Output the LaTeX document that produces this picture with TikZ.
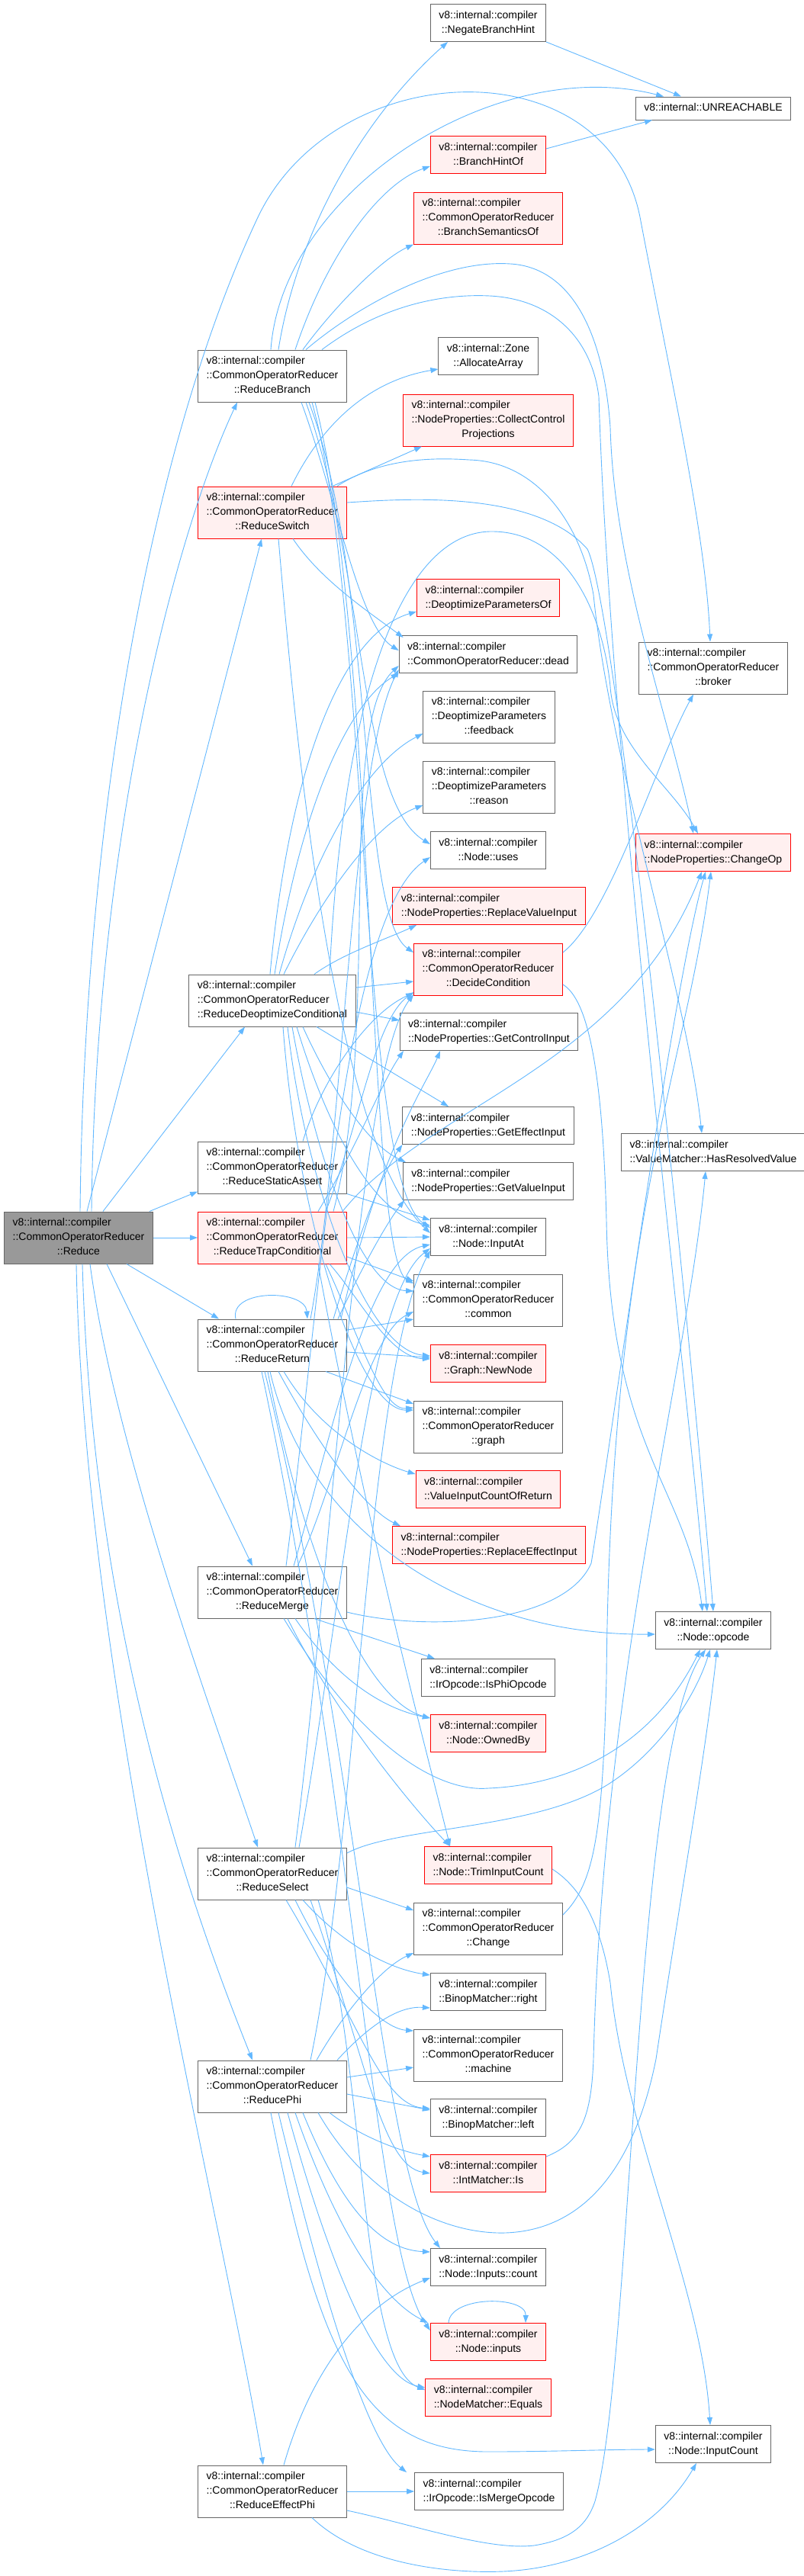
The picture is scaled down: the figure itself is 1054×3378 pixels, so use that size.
\documentclass[tikz,border=0pt]{standalone}
\usepackage{fontspec}
\setmainfont{Liberation Sans}
\usetikzlibrary{arrows.meta}

\definecolor{edgeblue}{HTML}{63B8FF}
\definecolor{boxgray}{HTML}{666666}
\definecolor{hotred}{HTML}{FF0000}
\definecolor{hotfill}{HTML}{FFF0F0}
\definecolor{rootfill}{HTML}{999999}

\newcommand{\vns}{v8::internal::compiler}
\newcommand{\oneline}[1]{\begin{tabular}{@{}c@{}}#1\end{tabular}}
\newcommand{\twoline}[2]{\begin{tabular}{@{}l@{}}#1\\\multicolumn{1}{@{}c@{}}{#2}\end{tabular}}
\newcommand{\threeline}[3]{\begin{tabular}{@{}l@{}}#1\\#2\\\multicolumn{1}{@{}c@{}}{#3}\end{tabular}}

\tikzset{
  fn/.style={draw=boxgray, fill=white, line width=1pt, inner xsep=11pt, inner ysep=5.5pt,
    font=\fontsize{14}{19}\selectfont},
  fnhot/.style={fn, draw=hotred, fill=hotfill},
  fnroot/.style={fn, fill=rootfill},
  call/.style={draw=edgeblue, line width=0.9pt, -{Triangle[length=10pt,width=7pt]}},
}

\begin{document}
\begin{tikzpicture}[x=1pt, y=1pt]
  \useasboundingbox (0,0) rectangle (1054,-3378);

  % callees, middle column
  \node[fn] (neg) at (640,-30) {\twoline{\vns}{::NegateBranchHint}};
  \node[fnhot] (hintof) at (640,-203) {\twoline{\vns}{::BranchHintOf}};
  \node[fnhot] (semof) at (640,-286) {\threeline{\vns}{::CommonOperatorReducer}{::BranchSemanticsOf}};
  \node[fn] (alloc) at (640,-467) {\twoline{v8::internal::Zone}{::AllocateArray}};
  \node[fnhot] (collect) at (640,-551) {\threeline{\vns}{::NodeProperties::CollectControl}{Projections}};
  \node[fnhot] (depof) at (640,-784) {\twoline{\vns}{::DeoptimizeParametersOf}};
  \node[fn] (dead) at (640,-858) {\twoline{\vns}{::CommonOperatorReducer::dead}};
  \node[fn] (feedback) at (641,-940) {\threeline{\vns}{::DeoptimizeParameters}{::feedback}};
  \node[fn] (reason) at (641,-1032) {\threeline{\vns}{::DeoptimizeParameters}{::reason}};
  \node[fn] (uses) at (640,-1115) {\twoline{\vns}{::Node::uses}};
  \node[fnhot] (replval) at (641,-1188) {\twoline{\vns}{::NodeProperties::ReplaceValueInput}};
  \node[fnhot] (decide) at (640,-1271) {\threeline{\vns}{::CommonOperatorReducer}{::DecideCondition}};
  \node[fn] (getctrl) at (641,-1353) {\twoline{\vns}{::NodeProperties::GetControlInput}};
  \node[fn] (geteff) at (640,-1476) {\twoline{\vns}{::NodeProperties::GetEffectInput}};
  \node[fn] (getval) at (640,-1549) {\twoline{\vns}{::NodeProperties::GetValueInput}};
  \node[fn] (inputat) at (640,-1622) {\twoline{\vns}{::Node::InputAt}};
  \node[fn] (common) at (640,-1705) {\threeline{\vns}{::CommonOperatorReducer}{::common}};
  \node[fnhot] (newnode) at (640,-1788) {\twoline{\vns}{::Graph::NewNode}};
  \node[fn] (graph) at (640,-1871) {\threeline{\vns}{::CommonOperatorReducer}{::graph}};
  \node[fnhot] (vicr) at (640,-1953) {\twoline{\vns}{::ValueInputCountOfReturn}};
  \node[fnhot] (repleff) at (641,-2026) {\twoline{\vns}{::NodeProperties::ReplaceEffectInput}};
  \node[fn] (isphi) at (640,-2200) {\twoline{\vns}{::IrOpcode::IsPhiOpcode}};
  \node[fnhot] (owned) at (640,-2273) {\twoline{\vns}{::Node::OwnedBy}};
  \node[fnhot] (trim) at (640,-2446) {\twoline{\vns}{::Node::TrimInputCount}};
  \node[fn] (change) at (640,-2529) {\threeline{\vns}{::CommonOperatorReducer}{::Change}};
  \node[fn] (right) at (640,-2612) {\twoline{\vns}{::BinopMatcher::right}};
  \node[fn] (machine) at (640,-2695) {\threeline{\vns}{::CommonOperatorReducer}{::machine}};
  \node[fn] (left) at (640,-2777) {\twoline{\vns}{::BinopMatcher::left}};
  \node[fnhot] (is) at (640,-2850) {\twoline{\vns}{::IntMatcher::Is}};
  \node[fn] (count) at (640,-2973) {\twoline{\vns}{::Node::Inputs::count}};
  \node[fnhot] (inputs) at (640,-3071) {\twoline{\vns}{::Node::inputs}};
  \node[fnhot] (equals) at (640,-3144) {\twoline{\vns}{::NodeMatcher::Equals}};
  \node[fn] (ismerge) at (641,-3267) {\twoline{\vns}{::IrOpcode::IsMergeOpcode}};

  % callees, right column
  \node[fn] (unreach) at (935,-142) {\oneline{v8::internal::UNREACHABLE}};
  \node[fn] (broker) at (935,-876) {\threeline{\vns}{::CommonOperatorReducer}{::broker}};
  \node[fnhot] (changeop) at (935,-1118) {\twoline{\vns}{::NodeProperties::ChangeOp}};
  \node[fn] (hasres) at (935,-1511) {\twoline{\vns}{::ValueMatcher::HasResolvedValue}};
  \node[fn] (opcode) at (935,-2138) {\twoline{\vns}{::Node::opcode}};
  \node[fn] (inputcount) at (935,-3205) {\twoline{\vns}{::Node::InputCount}};

  % reducers
  \node[fn] (rbranch) at (357,-493) {\threeline{\vns}{::CommonOperatorReducer}{::ReduceBranch}};
  \node[fnhot] (rswitch) at (357,-672) {\threeline{\vns}{::CommonOperatorReducer}{::ReduceSwitch}};
  \node[fn] (rdeopt) at (357,-1312) {\threeline{\vns}{::CommonOperatorReducer}{::ReduceDeoptimizeConditional}};
  \node[fn] (rstatic) at (357,-1531) {\threeline{\vns}{::CommonOperatorReducer}{::ReduceStaticAssert}};
  \node[fnhot] (rtrap) at (357,-1623) {\threeline{\vns}{::CommonOperatorReducer}{::ReduceTrapConditional}};
  \node[fn] (rreturn) at (357,-1764) {\threeline{\vns}{::CommonOperatorReducer}{::ReduceReturn}};
  \node[fn] (rmerge) at (357,-2088) {\threeline{\vns}{::CommonOperatorReducer}{::ReduceMerge}};
  \node[fn] (rselect) at (357,-2457) {\threeline{\vns}{::CommonOperatorReducer}{::ReduceSelect}};
  \node[fn] (rphi) at (357,-2736) {\threeline{\vns}{::CommonOperatorReducer}{::ReducePhi}};
  \node[fn] (reffphi) at (357,-3267) {\threeline{\vns}{::CommonOperatorReducer}{::ReduceEffectPhi}};

  % root
  \node[fnroot] (reduce) at (103,-1623) {\threeline{\vns}{::CommonOperatorReducer}{::Reduce}};

  % Reduce
  \draw[call] ([xshift=2]reduce.north) .. controls (110,-1100) and (190,-600) .. (338,-285)
    .. controls (440,-70) and (800,-60) .. (840,-290) .. controls (880,-500) and (925,-700) .. ([xshift=-4]broker.north);
  \draw[call] ([xshift=17]reduce.north) .. controls (125,-1100) and (230,-700) .. ([xshift=-46]rbranch.south);
  \draw[call] ([xshift=11]reduce.north) -- ([xshift=-14]rswitch.south);
  \draw[call] ([xshift=32]reduce.north) -- ([xshift=-36]rdeopt.south);
  \draw[call] ([xshift=-5]reduce.north east) -- ([yshift=3]rstatic.south west);
  \draw[call] (reduce.east) -- (rtrap.west);
  \draw[call] ([xshift=63]reduce.south) -- ([xshift=-70]rreturn.north);
  \draw[call] ([xshift=37]reduce.south) -- ([xshift=-26]rmerge.north);
  \draw[call] ([xshift=15]reduce.south) .. controls (150,-1900) and (280,-2250) .. ([xshift=-19]rselect.north);
  \draw[call] ([xshift=5]reduce.south) .. controls (120,-2100) and (230,-2450) .. ([xshift=-26]rphi.north);
  \draw[call] ([xshift=-3]reduce.south) .. controls (110,-2200) and (290,-2900) .. ([xshift=-12]reffphi.north);

  % ReduceBranch
  \draw[call] ([xshift=-2]rbranch.north) .. controls (370,-250) and (650,-70) .. ([xshift=-65]unreach.north);
  \draw[call] ([xshift=8]rbranch.north) .. controls (390,-300) and (480,-150) .. ([xshift=-53]neg.south);
  \draw[call] ([xshift=30]rbranch.north) .. controls (430,-330) and (500,-240) .. ([yshift=-15]hintof.west);
  \draw[call] ([xshift=40]rbranch.north) .. controls (440,-400) and (500,-340) .. (semof.south west);
  \draw[call] ([xshift=44]rbranch.north) .. controls (470,-400) and (580,-340) .. (669,-346)
    .. controls (740,-350) and (790,-420) .. (800,-560) .. controls (805,-750) and (880,-950) .. ([xshift=-26]changeop.north);
  \draw[call] ([xshift=65]rbranch.north) .. controls (500,-400) and (580,-385) .. (642,-388)
    .. controls (720,-392) and (775,-440) .. (785,-520) .. controls (800,-1000) and (900,-1800) .. ([xshift=-8]opcode.north);
  \draw[call] ([xshift=38]rbranch.south) .. controls (440,-650) and (470,-820) .. ([yshift=5]dead.west);
  \draw[call] ([xshift=44]rbranch.south) .. controls (480,-750) and (470,-1050) .. ([yshift=8]uses.west);
  \draw[call] ([xshift=48]rbranch.south) .. controls (490,-750) and (470,-1200) .. ([yshift=22]decide.west);
  \draw[call] ([xshift=52]rbranch.south) .. controls (485,-800) and (470,-1550) .. ([yshift=12]inputat.west);
  \draw[call] ([xshift=56]rbranch.south) .. controls (495,-850) and (480,-1650) .. ([yshift=22]common.west);

  % ReduceSwitch
  \draw[call] ([xshift=25]rswitch.north) .. controls (420,-560) and (480,-500) .. ([yshift=-17]alloc.west);
  \draw[call] ([xshift=79]rswitch.north) -- ([xshift=-87]collect.south);
  \draw[call] ([xshift=85]rswitch.north) .. controls (500,-600) and (570,-600) .. (615,-603)
    .. controls (700,-605) and (760,-680) .. (778,-780) .. controls (800,-1000) and (900,-1300) .. ([xshift=-15]hasres.north);
  \draw[call] ([yshift=13]rswitch.east) .. controls (520,-655) and (700,-640) .. (770,-720)
    .. controls (810,-800) and (910,-1800) .. (opcode.north);
  \draw[call] ([xshift=27]rswitch.south) .. controls (420,-760) and (480,-800) .. ([xshift=6,yshift=-3]dead.north west);
  \draw[call] ([xshift=8]rswitch.south) .. controls (390,-1000) and (440,-1500) .. ([yshift=5]inputat.west);

  % ReduceDeoptimizeConditional
  \draw[call] ([xshift=-3]rdeopt.north) .. controls (380,-1000) and (450,-830) .. ([yshift=-18]depof.west);
  \draw[call] ([xshift=3]rdeopt.north) .. controls (395,-1050) and (460,-920) .. (dead.south west);
  \draw[call] ([xshift=9]rdeopt.north) .. controls (410,-1120) and (480,-1000) .. ([yshift=-22]feedback.west);
  \draw[call] ([xshift=15]rdeopt.north) .. controls (420,-1180) and (490,-1080) .. ([yshift=-24]reason.west);
  \draw[call] ([xshift=55]rdeopt.north) .. controls (450,-1250) and (510,-1230) .. ([xshift=-95]replval.south);
  \draw[call] ([xshift=75]rdeopt.north) .. controls (450,-900) and (530,-700) .. (642,-697)
    .. controls (740,-695) and (790,-800) .. (800,-900) .. controls (805,-980) and (880,-1030) .. ([xshift=-20]changeop.north);
  \draw[call] ([yshift=17]rdeopt.east) -- ([yshift=-16]decide.west);
  \draw[call] ([yshift=-15]rdeopt.east) -- ([yshift=15]getctrl.west);
  \draw[call] ([xshift=58]rdeopt.south) -- ([xshift=-52]geteff.north);
  \draw[call] ([xshift=40]rdeopt.south) .. controls (430,-1420) and (480,-1500) .. ([xshift=-108]getval.north);
  \draw[call] ([xshift=32]rdeopt.south) .. controls (420,-1450) and (480,-1590) .. ([yshift=15]inputat.west);
  \draw[call] ([xshift=26]rdeopt.south) .. controls (410,-1500) and (470,-1690) .. ([yshift=12]common.west);
  \draw[call] ([xshift=20]rdeopt.south) .. controls (400,-1550) and (480,-1770) .. ([yshift=10]newnode.west);
  \draw[call] ([xshift=14]rdeopt.south) .. controls (390,-1600) and (470,-1850) .. ([yshift=22]graph.west);

  % ReduceStaticAssert
  \draw[call] ([xshift=40]rstatic.north) .. controls (420,-1420) and (480,-1330) .. ([yshift=-31]decide.west);
  \draw[call] (rstatic.south east) -- ([yshift=22]inputat.west);

  % ReduceTrapConditional
  \draw[call] (rtrap.east) -- (inputat.west);
  \draw[call] ([xshift=60]rtrap.north) .. controls (470,-1500) and (500,-1420) .. ([xshift=-112]getctrl.south);
  \draw[call] ([xshift=70]rtrap.north) .. controls (470,-1480) and (490,-1340) .. ([yshift=-30]decide.west);
  \draw[call] ([xshift=80]rtrap.north) .. controls (500,-1350) and (440,-950) .. ([yshift=-15]dead.west);
  \draw[call] ([xshift=92]rtrap.north) .. controls (560,-1450) and (820,-1400) .. ([xshift=-15]changeop.south);
  \draw[call] ([yshift=-25]rtrap.east) -- ([yshift=25]common.west);
  \draw[call] ([xshift=75]rtrap.south) .. controls (470,-1700) and (510,-1780) .. ([yshift=6]newnode.west);
  \draw[call] ([xshift=70]rtrap.south) .. controls (470,-1750) and (500,-1850) .. ([yshift=25]graph.west);
  \draw[call] ([xshift=60]rtrap.south) .. controls (480,-2000) and (560,-2300) .. ([xshift=-50]trim.north);

  % ReduceReturn
  \draw[call] ([xshift=-48]rreturn.north) .. controls (300,-1690) and (400,-1690) .. ([xshift=46]rreturn.north);
  \draw[call] ([xshift=50]rreturn.north) .. controls (450,-1500) and (460,-1000) .. ([yshift=-20]dead.west);
  \draw[call] ([xshift=80]rreturn.north) .. controls (470,-1620) and (500,-1540) .. (geteff.south west);
  \draw[call] ([xshift=86]rreturn.north) .. controls (480,-1650) and (510,-1600) .. ([xshift=-110]getval.south);
  \draw[call] ([xshift=90]rreturn.north) .. controls (500,-1500) and (560,-1420) .. ([xshift=-64]getctrl.south);
  \draw[call] ([yshift=20]rreturn.east) -- ([yshift=-25]common.west);
  \draw[call] ([yshift=-9]rreturn.east) -- ([yshift=8]newnode.west);
  \draw[call] ([xshift=70]rreturn.south) -- ([yshift=30]graph.west);
  \draw[call] ([xshift=15]rreturn.south) .. controls (420,-1880) and (500,-1920) .. ([yshift=20]vicr.west);
  \draw[call] ([xshift=8]rreturn.south) .. controls (420,-1900) and (480,-1980) .. ([xshift=-116]repleff.north);
  \draw[call] ([xshift=-3]rreturn.south) .. controls (400,-2000) and (600,-2145) .. ([yshift=-5]opcode.west);
  \draw[call] ([xshift=-6]rreturn.south) .. controls (400,-2050) and (480,-2230) .. ([yshift=20]owned.west);
  \draw[call] ([xshift=-10]rreturn.south) .. controls (470,-2300) and (500,-2850) .. ([xshift=-63]count.north);
  \draw[call] ([xshift=-14]rreturn.south) .. controls (470,-2400) and (490,-2950) .. ([yshift=15]inputs.west);

  % ReduceMerge
  \draw[call] ([xshift=18]rmerge.north) .. controls (420,-1700) and (450,-1200) .. ([yshift=-9]uses.west);
  \draw[call] ([xshift=28]rmerge.north) .. controls (430,-1900) and (480,-1650) .. ([yshift=-10]inputat.west);
  \draw[call] ([xshift=33]rmerge.north) .. controls (440,-1950) and (480,-1750) .. ([yshift=-15]common.west);
  \draw[call] ([yshift=-26]rmerge.east) .. controls (560,-2140) and (740,-2130) .. (775,-2050)
    .. controls (800,-1900) and (880,-1300) .. ([xshift=-10]changeop.south);
  \draw[call] ([xshift=15]rmerge.south) .. controls (480,-2300) and (580,-2350) .. (640,-2345)
    .. controls (760,-2340) and (860,-2280) .. ([xshift=-17]opcode.south);
  \draw[call] ([xshift=55]rmerge.south) -- ([xshift=-70]isphi.north);
  \draw[call] ([xshift=30]rmerge.south) .. controls (440,-2200) and (500,-2240) .. ([yshift=20]owned.west);
  \draw[call] ([xshift=20]rmerge.south) .. controls (440,-2250) and (550,-2380) .. ([xshift=-50]trim.north);

  % ReduceSelect
  \draw[call] ([xshift=30]rselect.north) .. controls (440,-2000) and (470,-1400) .. ([yshift=-33]decide.west);
  \draw[call] ([xshift=35]rselect.north) .. controls (450,-2100) and (480,-1700) .. ([yshift=-15]inputat.west);
  \draw[call] ([yshift=27]rselect.east) .. controls (520,-2395) and (700,-2400) .. (797,-2340)
    .. controls (860,-2300) and (910,-2230) .. ([xshift=-4]opcode.south);
  \draw[call] ([yshift=-18]rselect.east) -- ([yshift=24]change.west);
  \draw[call] ([xshift=40]rselect.south) .. controls (440,-2540) and (500,-2580) .. ([yshift=22]right.west);
  \draw[call] ([xshift=30]rselect.south) .. controls (440,-2600) and (500,-2660) .. ([yshift=32]machine.west);
  \draw[call] ([xshift=18]rselect.south) .. controls (470,-2650) and (500,-2760) .. ([yshift=12]left.west);
  \draw[call] ([xshift=50]rselect.south) .. controls (480,-2700) and (500,-2840) .. (is.west);
  \draw[call] ([xshift=60]rselect.south) .. controls (480,-2700) and (470,-3100) .. ([yshift=10]equals.west);

  % ReducePhi
  \draw[call] ([xshift=50]rphi.north) .. controls (470,-2400) and (480,-1800) .. ([yshift=-18]inputat.west);
  \draw[call] ([xshift=58]rphi.north) .. controls (450,-2640) and (500,-2580) .. ([yshift=-32]change.west);
  \draw[call] ([xshift=85]rphi.north) .. controls (480,-2660) and (520,-2630) .. ([yshift=-21]right.west);
  \draw[call] ([yshift=12]rphi.east) -- ([yshift=-16]machine.west);
  \draw[call] ([yshift=-10]rphi.east) -- ([yshift=10]left.west);
  \draw[call] ([xshift=75]rphi.south) .. controls (470,-2800) and (520,-2820) .. ([yshift=22]is.west);
  \draw[call] ([xshift=60]rphi.south) .. controls (480,-2880) and (580,-2930) .. (662,-2928)
    .. controls (760,-2925) and (830,-2850) .. (860,-2700) .. controls (890,-2500) and (925,-2300) .. ([xshift=5]opcode.south);
  \draw[call] ([xshift=40]rphi.south) .. controls (450,-2900) and (500,-2950) .. ([yshift=20]count.west);
  \draw[call] ([xshift=30]rphi.south) .. controls (450,-2950) and (510,-3020) .. ([xshift=-79]inputs.north);
  \draw[call] ([xshift=20]rphi.south) .. controls (440,-3000) and (500,-3120) .. ([yshift=13]equals.west);
  \draw[call] ([xshift=8]rphi.south) .. controls (420,-3000) and (480,-3200) .. ([xshift=-108]ismerge.north);
  \draw[call] ([xshift=-2]rphi.south) .. controls (420,-3100) and (480,-3215) .. (640,-3215)
    .. controls (720,-3215) and (800,-3212) .. ([yshift=-7]inputcount.west);

  % ReduceEffectPhi
  \draw[call] (reffphi.east) -- (ismerge.west);
  \draw[call] ([xshift=15]reffphi.north) .. controls (410,-3100) and (480,-3020) .. ([yshift=-14]count.west);
  \draw[call] ([xshift=52]reffphi.south) .. controls (470,-3360) and (580,-3375) .. (659,-3372)
    .. controls (760,-3368) and (860,-3320) .. ([xshift=-22]inputcount.south);
  \draw[call] ([yshift=-25]reffphi.east) .. controls (540,-3310) and (640,-3345) .. (700,-3338)
    .. controls (750,-3330) and (770,-3310) .. (780,-3280) .. controls (830,-3100) and (830,-2300) .. ([xshift=-10]opcode.south);

  % leaf to leaf
  \draw[call] (neg.south east) -- ([xshift=-42]unreach.north);
  \draw[call] ([yshift=8]hintof.east) -- ([xshift=-80]unreach.south);
  \draw[call] ([yshift=22]decide.east) .. controls (800,-1200) and (860,-1000) .. ([xshift=-26]broker.south);
  \draw[call] ([yshift=-20]decide.east) .. controls (770,-1310) and (790,-1400) .. (795,-1600)
    .. controls (800,-1900) and (900,-1950) .. ([xshift=-14]opcode.north);
  \draw[call] ([yshift=18]change.east) .. controls (780,-2470) and (790,-2400) .. (795,-2200)
    .. controls (800,-1600) and (900,-1400) .. ([xshift=-3]changeop.south);
  \draw[call] ([yshift=-5]trim.east) .. controls (770,-2480) and (790,-2540) .. (800,-2600)
    .. controls (820,-2800) and (920,-3000) .. ([xshift=-4]inputcount.north);
  \draw[call] ([yshift=22]is.east) .. controls (760,-2810) and (775,-2780) .. (778,-2700)
    .. controls (790,-2200) and (900,-1800) .. ([xshift=-10]hasres.south);
  \draw[call] ([xshift=-52]inputs.north) .. controls (590,-3010) and (690,-3010) .. ([xshift=49]inputs.north);
\end{tikzpicture}
\end{document}
